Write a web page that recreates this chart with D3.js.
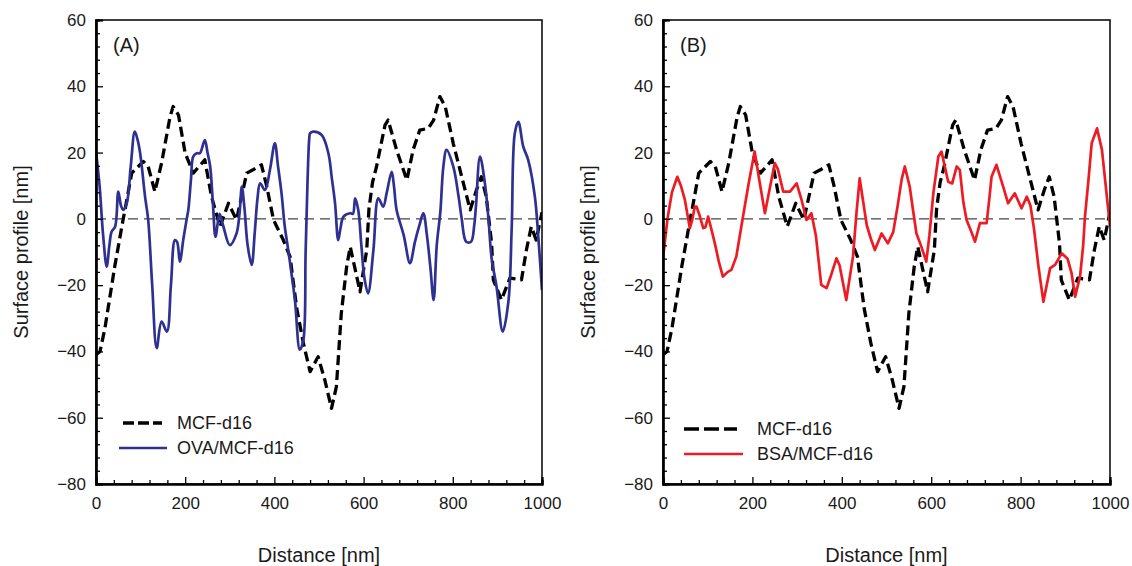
<!DOCTYPE html>
<html><head><meta charset="utf-8">
<script src="https://cdn.jsdelivr.net/npm/d3@7"></script>
<style>
html,body{margin:0;padding:0;background:#fff;}
text{font-family:"Liberation Sans",Arial,sans-serif;}
</style></head>
<body><svg id="c" width="1132" height="566"></svg>
<script>
// ---- data (distance in nm, height in nm) ----
const mcfX = [0,9,20,42,61,65,80,106,117,132,147,166,173,185,200,218,244,259,278,297,315,338,352,371,383,398,420,435,450,465,480,498,513,528,539,550,562,570,592,607,612,620,629,648,655,674,697,711,726,745,757,771,783,801,820,839,853,864,875,887,891,909,928,954,965,976,987,1000];
const mcfY = [-41,-40,-33,-14.4,0,2.7,13.8,17.3,15.8,8.2,16.8,30.8,33.9,31.3,19.8,13.8,17.8,6.7,-2.3,4.7,-0.3,13.8,14.8,16.3,9.7,-0.3,-6.4,-11.4,-27,-37.5,-46.1,-41.6,-48.6,-57.2,-50.6,-28.5,-14.4,-8.4,-22,-9.4,3,11,15.8,28.3,29.8,20.8,11.7,20.8,26.8,27.3,29.8,36.9,33.9,22.8,12.7,2.7,8.7,12.7,6.7,-7.4,-18.4,-24.5,-17.9,-18.4,-9.4,-2.3,-6.4,2];

const ovaX = [0,8,16,24,30,35,43,50,56,61,69,78,87,93,99,110,117,126,136,147,159,168,177,182,188,196,203,207,213,218,226,233,244,250,256,262,268,277,285,300,315,322,327,333,340,349,356,362,368,379,390,401,408,416,423,431,446,457,465,470,474,478,480,487,506,521,529,536,543,548,555,570,576,581,588,595,602,610,622,633,644,652,663,668,674,690,704,715,725,734,742,750,757,764,772,779,786,801,813,820,830,841,848,852,861,872,880,887,898,912,925,932,939,947,958,969,984,992,1000];
const ovaY = [20.3,10,-5,-14.4,-8,-3.9,-2.3,8.2,4,2.7,4.7,16,26.3,24,19.8,6.7,-0.3,-20,-39,-31,-34,-20,-6.4,-7,-12.9,-6,-0.3,2.7,12,18.8,19.8,19.8,23.8,20,15.8,5,-5.4,1.5,-2,-7.9,-4.4,2,9.7,3,-8,-13.9,-4,6,10.7,8.7,14.8,22.8,16,7.7,-2,-9.4,-24.5,-39.5,-36.5,-10,10,24,25.8,26.3,25.3,19.8,12,4.7,-6.4,-3,0.7,1.7,1.5,6.2,2.7,-8,-18,-22.5,-9.4,6.2,3.7,8,14.2,10,2.7,-5,-13.4,-7,-2,1.7,-5,-15,-24.5,-8,2,16,20.8,15.8,6.7,0,-6.9,-6.9,-2,4,18.8,10.7,0,-11.9,-20.4,-34,-24.5,-3,25.8,29.3,21.8,17.8,6.7,-6,-21.5];

const bsaX = [0,10,20,32,40,49,60,66,71,75,82,90,95,101,108,116,125,134,145,153,164,179,192,205,215,228,240,250,257,269,284,299,310,321,332,342,354,366,376,388,395,410,425,433,440,448,456,465,474,489,503,515,525,534,541,552,560,567,577,589,596,605,616,623,638,647,657,664,672,679,690,698,709,724,730,735,746,761,772,787,802,814,822,830,840,851,866,877,892,905,914,922,933,940,944,952,959,971,982,992,1000];
const bsaY = [-11.9,0,8,12.7,10,5.7,-2.8,0,3.7,3.7,1,-2.8,-2.5,0.7,-3,-7.4,-13,-17.4,-16,-15.4,-11.4,0.7,11,20.3,12,1.7,10,16.8,15,8.2,8.2,10.7,5.7,-0.3,1.7,-5,-19.9,-20.9,-17,-11.9,-14,-24.5,-11.4,2,12.2,5,-2,-6,-9.4,-4.4,-7.4,-4,4,12,15.8,9.7,2,-4.4,-8,-12.9,-5,8,18.8,20.3,11.2,10.7,15.8,14.8,5,-0.3,-4,-6.9,-1.3,-1.3,6,12.7,16.3,9.7,4.7,7.7,3.2,6.7,4,-3,-14.4,-25,-14.9,-13.9,-10.4,-12,-16.4,-23.5,-17.4,-8,0.7,12,22.8,27.3,20.8,8,-2.3];

const xMajor = [0,200,400,600,800,1000];
const yMajor = [60,40,20,0,-20,-40,-60,-80];
const panelLabels = ["(A)","(B)"];
const legendNames = [["MCF-d16","OVA/MCF-d16"],["MCF-d16","BSA/MCF-d16"]];
const yTitles = ["Surface profile [nm]","Surface profile  [nm]"];
const xTitle = "Distance [nm]";

const svg = d3.select("#c");
const panels = [
  {x0:96, x1:542, series:[{x:mcfX,y:mcfY,color:"#000",w:3.3,dash:"10,5",curve:d3.curveLinear},{x:ovaX,y:ovaY,color:"#2e3192",w:2.7,dash:null,curve:d3.curveCatmullRom}]},
  {x0:663, x1:1110, series:[{x:mcfX,y:mcfY,color:"#000",w:3.3,dash:"10,5",curve:d3.curveLinear},{x:bsaX,y:bsaY,color:"#ed1c24",w:2.7,dash:null,curve:d3.curveLinear}]}
];
const yTop = 20, yBot = 484;

panels.forEach((p,i)=>{
  const x = d3.scaleLinear().domain([0,1000]).range([p.x0,p.x1]);
  const y = d3.scaleLinear().domain([-80,60]).range([yBot,yTop]);
  const g = svg.append("g");
  const clipId = "clip"+i;
  g.append("clipPath").attr("id",clipId).append("rect")
    .attr("x",p.x0).attr("y",yTop).attr("width",p.x1-p.x0).attr("height",yBot-yTop);

  // zero line
  g.append("line").attr("x1",x(0)).attr("x2",x(1000)).attr("y1",y(0)).attr("y2",y(0))
    .attr("stroke","#444").attr("stroke-width",1.2).attr("stroke-dasharray","10,6");

  // series
  p.series.forEach(s=>{
    const pts = s.x.map((v,k)=>[v,s.y[k]]);
    const line = d3.line().x(d=>x(d[0])).y(d=>y(d[1])).curve(s.curve);
    g.append("path").attr("d",line(pts)).attr("fill","none")
      .attr("stroke",s.color).attr("stroke-width",s.w)
      .attr("stroke-dasharray",s.dash).attr("stroke-linejoin","round")
      .attr("clip-path",`url(#${clipId})`);
  });

  // frame
  g.append("rect").attr("x",p.x0).attr("y",yTop).attr("width",p.x1-p.x0).attr("height",yBot-yTop)
    .attr("fill","none").attr("stroke","#000").attr("stroke-width",1.5);

  // axes
  const xMinor = d3.range(0,1001,40).filter(v=>xMajor.indexOf(v)<0);
  const yMinor = d3.range(-80,61,4).filter(v=>yMajor.indexOf(v)<0);
  g.append("g").attr("transform",`translate(0,${yBot})`)
    .call(d3.axisBottom(x).tickValues(xMajor).tickSize(-7).tickPadding(13).tickFormat(d3.format("d")));
  g.append("g").attr("transform",`translate(0,${yBot})`)
    .call(d3.axisBottom(x).tickValues(xMinor).tickSize(-4).tickFormat(""));
  g.append("g").attr("transform",`translate(${p.x0},0)`)
    .call(d3.axisLeft(y).tickValues(yMajor).tickSize(-7).tickPadding(10).tickFormat(d3.format("d")));
  g.append("g").attr("transform",`translate(${p.x0},0)`)
    .call(d3.axisLeft(y).tickValues(yMinor).tickSize(-4).tickFormat(""));
  g.selectAll(".domain").attr("stroke","#000").attr("stroke-width",2.2);
  g.selectAll(".tick line").attr("stroke","#000").attr("stroke-width",1.3);
  g.selectAll(".tick text").attr("font-size",17).attr("fill","#1a1a1a")
    .attr("font-family","'Liberation Sans',Arial,sans-serif");

  // titles
  g.append("text").attr("x",(p.x0+p.x1)/2).attr("y",562).attr("text-anchor","middle")
    .attr("font-size",20).attr("fill","#1a1a1a").text(xTitle);
  const yt = p.x0-75;
  g.append("text").attr("transform",`translate(${yt},${(yTop+yBot)/2}) rotate(-90)`)
    .attr("text-anchor","middle").attr("dominant-baseline","central")
    .attr("font-size",20).attr("fill","#1a1a1a").text(yTitles[i]);

  // panel label
  g.append("text").attr("x",p.x0+17).attr("y",52).attr("font-size",20).attr("fill","#1a1a1a").text(panelLabels[i]);

  // legend
  const lx = i===0 ? 123 : 684;
  const tx = i===0 ? 177 : 757;
  const ly = i===0 ? [423,448] : [429,454];
  const lend = i===0 ? [162,167] : [737,743];
  const ldash = i===0 ? "11,4" : "15,5";
  p.series.forEach((s,k)=>{
    g.append("line").attr("x1",lx-(k===1&&i===0?4:0)).attr("x2",lend[k]).attr("y1",ly[k]).attr("y2",ly[k])
      .attr("stroke",s.color).attr("stroke-width",s.w).attr("stroke-dasharray",s.dash?ldash:null);
    g.append("text").attr("x",tx).attr("y",ly[k]).attr("dominant-baseline","central")
      .attr("font-size",18).attr("fill","#1a1a1a").text(legendNames[i][k]);
  });
});
</script></body></html>
